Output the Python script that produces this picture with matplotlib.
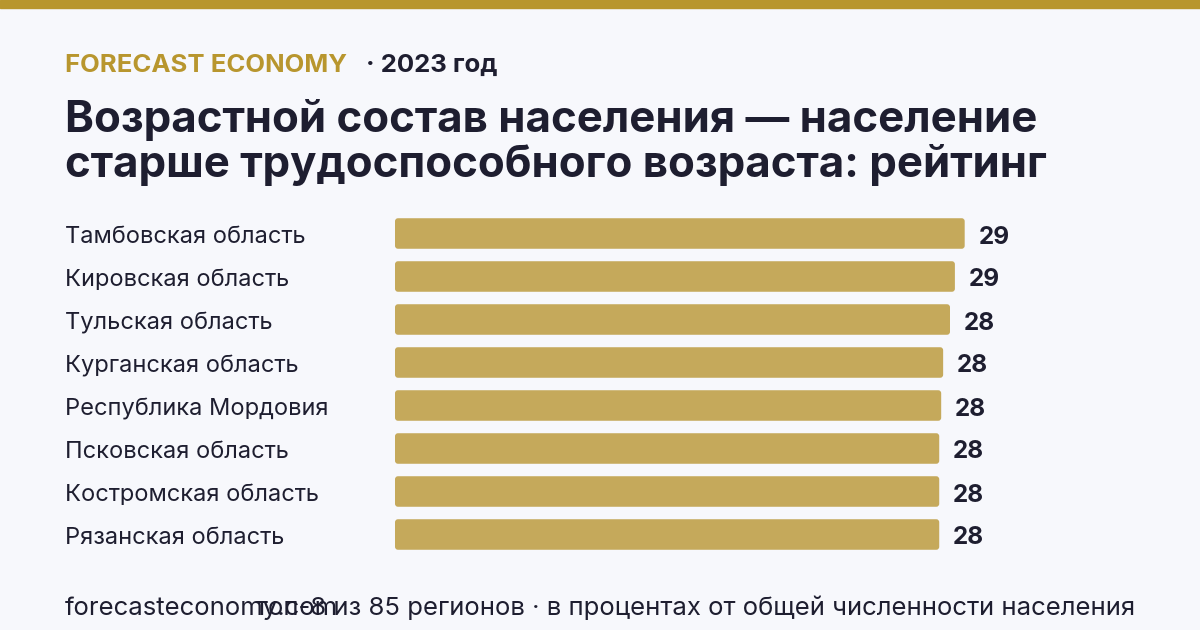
import matplotlib.pyplot as plt
from matplotlib.patches import FancyBboxPatch

# Данные
regions = ['Тамбовская область', 'Кировская область', 'Тульская область',
           'Курганская область', 'Республика Мордовия', 'Псковская область',
           'Костромская область', 'Рязанская область']
values = [29.1, 28.6, 28.35, 28.0, 27.9, 27.8, 27.8, 27.8]

brand = 'FORECAST ECONOMY'
year = '· 2023 год'
title1 = 'Возрастной состав населения — население'
title2 = 'старше трудоспособного возраста: рейтинг'
site = 'forecasteconomy.com'
note = 'топ-8 из 85 регионов · в процентах от общей численности населения'

bg = '#F7F8FC'
gold = '#B8962E'
bar_col = '#C5A95B'
dark = '#1E1E30'

plt.rcParams['font.family'] = ['Inter', 'DejaVu Sans']

W, H = 1200, 630
fig = plt.figure(figsize=(12, 6.3), dpi=100, facecolor=bg)

# верхняя полоса
fig.patches.append(plt.Rectangle((0, 1 - 8 / H), 1, 8 / H, transform=fig.transFigure,
                                 color=gold, zorder=0))

fig.text(65 / W, 1 - 72 / H, brand, color=gold, fontsize=18.5, fontweight='bold', va='baseline')
fig.text(366 / W, 1 - 72 / H, year, color=dark, fontsize=18.5, fontweight='bold', va='baseline')
fig.text(65 / W, 1 - 132 / H, title1, color=dark, fontsize=31.5, fontweight='bold', va='baseline')
fig.text(65 / W, 1 - 177 / H, title2, color=dark, fontsize=31.5, fontweight='bold', va='baseline')

# оси с барами
row = 43
top = 233.5 - row / 2
ax = fig.add_axes([395 / W, 1 - (top + row * len(values)) / H, 740 / W, row * len(values) / H])
ax.set_facecolor(bg)
xmax = 37.8
ax.set_xlim(0, xmax)
ax.set_ylim(len(values) - 0.5, -0.5)
ax.axis('off')

h = 0.71
bars = ax.barh(range(len(values)), values, height=h, color=bar_col, alpha=0)
xpp = xmax / 740
ypp = 1 / row
dy = 3.5 * ypp
for b, v in zip(bars, values):
    p = FancyBboxPatch((b.get_x(), b.get_y()), b.get_width(), b.get_height(),
                       boxstyle='round,pad=0,rounding_size=%f' % (3 * xpp),
                       mutation_aspect=ypp / xpp, fc=bar_col, ec='none')
    ax.add_patch(p)
    ax.text(v + 14 * xpp, b.get_y() + h / 2 + dy, '%.0f' % v, va='center', ha='left',
            fontsize=17.5, fontweight='bold', color=dark)

for i, r in enumerate(regions):
    ax.text(-330 * xpp, i + dy, r, va='center', ha='left', fontsize=17, color=dark, clip_on=False)

fig.text(65 / W, 1 - 615 / H, site, color=dark, fontsize=18.5, va='baseline')
fig.text(1135 / W, 1 - 615 / H, note, color=dark, fontsize=18.5, va='baseline', ha='right')

fig.savefig('out.png', dpi=100, facecolor=bg)
